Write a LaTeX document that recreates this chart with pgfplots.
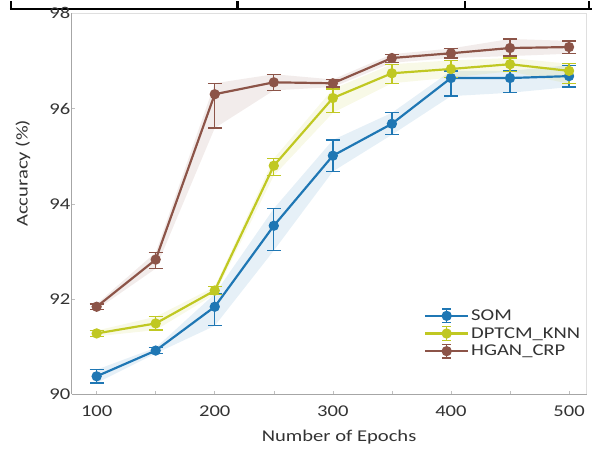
\documentclass[border=0pt]{standalone}
\usepackage{fontspec}
\setmainfont{Carlito}[FakeStretch=1.25]
\usepackage{pgfplots}
\pgfplotsset{compat=1.18}
\usepackage{pgfplotstable}
\usepgfplotslibrary{fillbetween}

\definecolor{somc}{RGB}{31,119,180}
\definecolor{dptc}{RGB}{192,200,34}
\definecolor{hganc}{RGB}{140,84,72}
\newcommand{\lbl}{\fontsize{16.5bp}{19bp}\selectfont}

% x = epochs, y = accuracy, ep/em = upper/lower error
\pgfplotstableread{
x   y     ep   em
100 90.38 0.14 0.14
150 90.92 0.06 0.06
200 91.84 0.27 0.40
250 93.54 0.36 0.52
300 95.01 0.33 0.33
350 95.68 0.23 0.23
400 96.64 0.15 0.38
450 96.64 0.15 0.31
500 96.68 0.23 0.23
}\somdata

\pgfplotstableread{
x   y     ep   em
100 91.28 0.06 0.06
150 91.49 0.14 0.14
200 92.18 0.08 0.08
250 94.80 0.15 0.21
300 96.22 0.19 0.31
350 96.74 0.19 0.21
400 96.83 0.18 0.18
450 96.93 0.13 0.15
500 96.79 0.15 0.27
}\dptdata

\pgfplotstableread{
x   y     ep   em
100 91.84 0.06 0.06
150 92.83 0.15 0.19
200 96.30 0.23 0.71
250 96.55 0.17 0.17
300 96.53 0.08 0.08
350 97.06 0.08 0.10
400 97.16 0.10 0.10
450 97.27 0.19 0.17
500 97.29 0.13 0.14
}\hgandata

\pgfplotsset{
  main/.style={#1, line width=2.2bp, mark=*, mark size=4bp,
    error bars/.cd, y dir=both, y explicit,
    error bar style={line width=1.3bp},
    error mark options={#1, rotate=90, mark size=7bp, line width=1.3bp}},
}

\begin{document}
\begin{tikzpicture}
\path (0,0) rectangle (593bp,451bp);
% table rule above the figure
\draw[black, line width=2.5bp] (10bp,443bp) -- (593bp,443bp);
\foreach \xx in {11,238,466,590} \draw[black, line width=2.5bp] (\xx bp,451bp) -- (\xx bp,443bp);

\begin{axis}[
  at={(72bp,57bp)}, anchor=south west,
  scale only axis, width=516bp, height=382bp,
  xmin=79, xmax=515, ymin=90, ymax=98,
  xtick={100,150,...,500},
  xticklabels={100,,200,,300,,400,,500},
  ytick={90,92,...,98},
  axis x line*=bottom, axis y line*=left,
  axis line style={gray!70, line width=1bp},
  tick style={gray!50, line width=0.6bp},
  major tick length=3bp,
  tick label style={font=\lbl, text=black!80},
  /pgf/number format/assume math mode=true,
  xticklabel style={yshift=-8bp},
  yticklabel style={xshift=2bp},
  xlabel={Number of Epochs}, ylabel={Accuracy (\%)},
  every axis x label/.style={at={(axis description cs:0.519,-0.113)}, anchor=center, font=\lbl, text=black!80},
  every axis y label/.style={at={(axis description cs:-0.095,0.58)}, rotate=90, anchor=center, font=\lbl, text=black!80},
  legend cell align=left,
  legend style={draw=none, fill=none, at={(axis description cs:0.678,0.233)}, anchor=north west, font=\lbl, text=black!80, row sep=1.5bp},
  legend image code/.code={
    \draw[#1, mark=none] (-26bp,0bp) -- (17bp,0bp);
    \draw[#1, mark=none, line width=1.3bp] (-4.5bp,-7bp) -- (-4.5bp,7bp) (-9bp,-7bp) -- (0bp,-7bp) (-9bp,7bp) -- (0bp,7bp);
    \draw[#1] plot coordinates {(-4.5bp,0bp)};
  },
]
% shaded bands
\addplot[draw=none, name path=sU, forget plot] table[x=x, y expr=\thisrow{y}+\thisrow{ep}] {\somdata};
\addplot[draw=none, name path=sL, forget plot] table[x=x, y expr=\thisrow{y}-\thisrow{em}] {\somdata};
\addplot[fill=somc, fill opacity=0.11, draw=none, forget plot] fill between[of=sU and sL];
\addplot[draw=none, name path=dU, forget plot] table[x=x, y expr=\thisrow{y}+\thisrow{ep}] {\dptdata};
\addplot[draw=none, name path=dL, forget plot] table[x=x, y expr=\thisrow{y}-\thisrow{em}] {\dptdata};
\addplot[fill=dptc, fill opacity=0.11, draw=none, forget plot] fill between[of=dU and dL];
\addplot[draw=none, name path=hU, forget plot] table[x=x, y expr=\thisrow{y}+\thisrow{ep}] {\hgandata};
\addplot[draw=none, name path=hL, forget plot] table[x=x, y expr=\thisrow{y}-\thisrow{em}] {\hgandata};
\addplot[fill=hganc, fill opacity=0.11, draw=none, forget plot] fill between[of=hU and hL];

\addplot[main=somc] table[x=x, y=y, y error plus=ep, y error minus=em] {\somdata};
\addlegendentry{SOM}
\addplot[main=dptc] table[x=x, y=y, y error plus=ep, y error minus=em] {\dptdata};
\addlegendentry{DPTCM\_KNN}
\addplot[main=hganc] table[x=x, y=y, y error plus=ep, y error minus=em] {\hgandata};
\addlegendentry{HGAN\_CRP}

\draw[gray!25, line width=0.8bp] (rel axis cs:0,1) -- (rel axis cs:1,1) -- (rel axis cs:1,0);
\end{axis}
\end{tikzpicture}
\end{document}
